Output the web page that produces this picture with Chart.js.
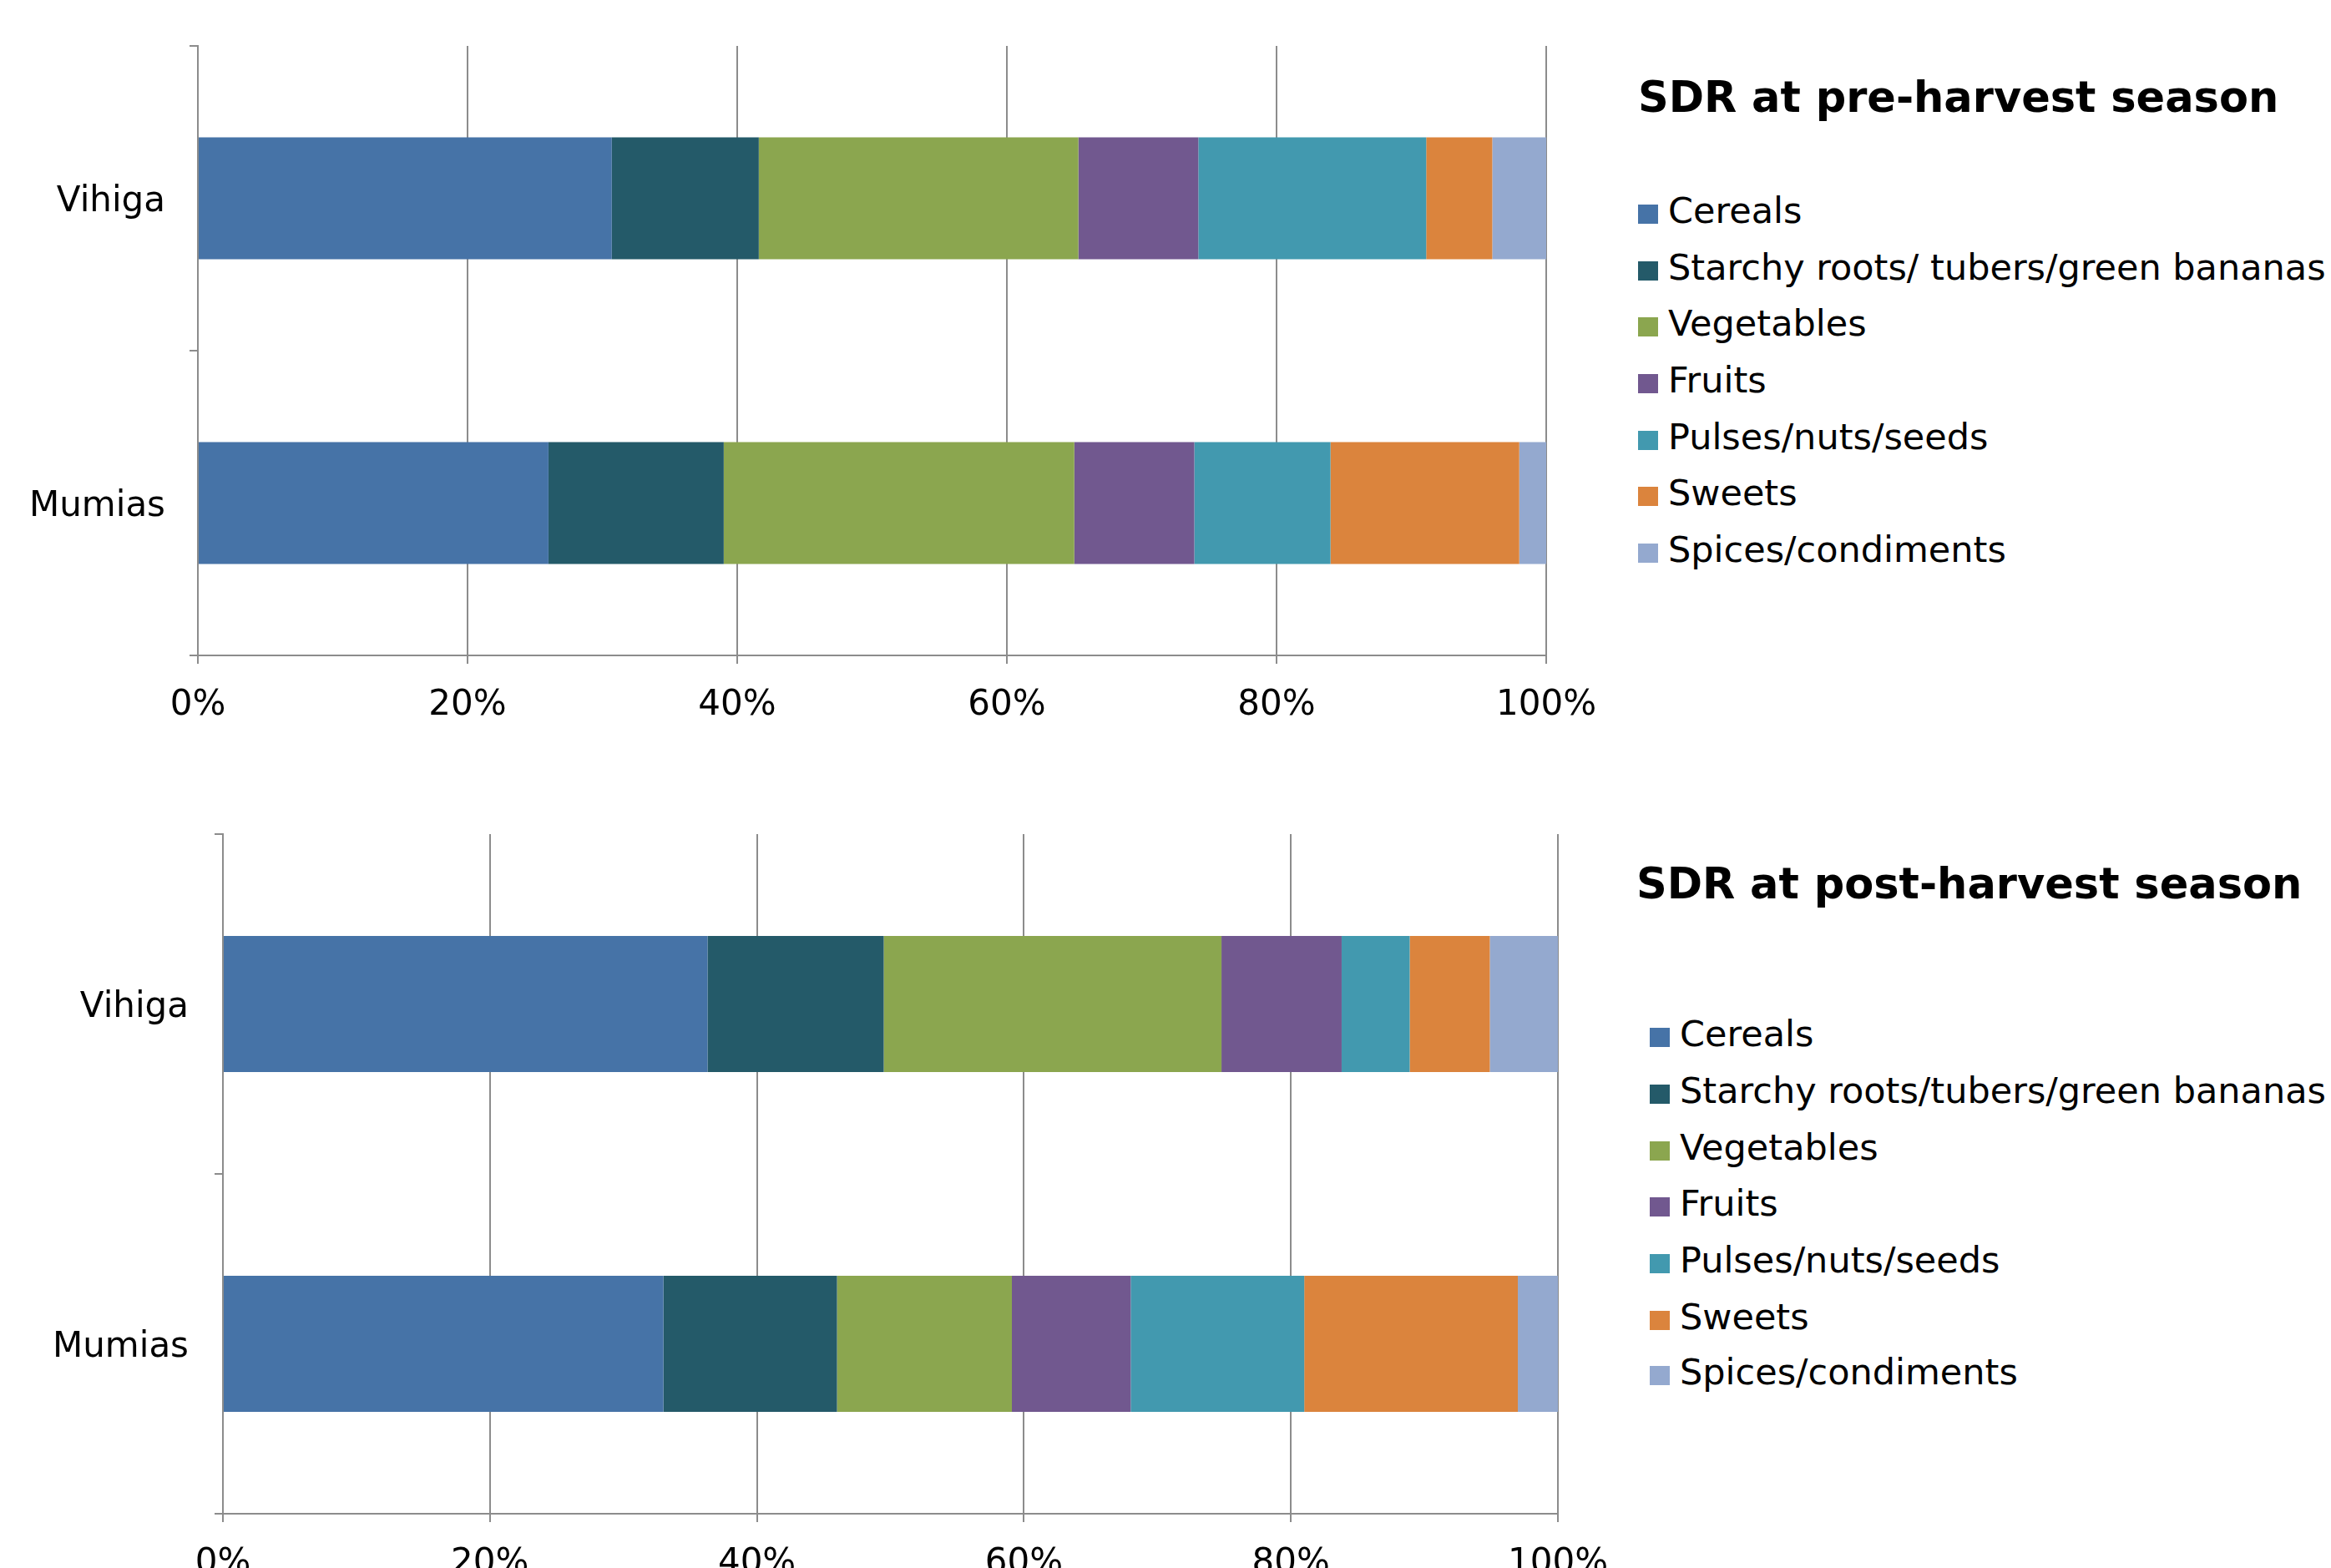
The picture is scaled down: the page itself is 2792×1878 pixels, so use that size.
<!DOCTYPE html>
<html>
<head>
<meta charset="utf-8">
<script src="https://cdn.jsdelivr.net/npm/chart.js@4/dist/chart.umd.min.js"></script>
<style>
  html, body { margin: 0; padding: 0; background: #fff; }
  body { width: 2792px; height: 1878px; overflow: hidden; position: relative; font-family: 'DejaVu Sans', Verdana, sans-serif; color: #000; }
  canvas { position: absolute; left: 0; }
  .legend-title { position: absolute; font-weight: bold; font-size: 51px; line-height: 60px; white-space: nowrap; }
  .legend-item { position: absolute; font-size: 43px; line-height: 50px; white-space: nowrap; }
  .legend-item span { display: inline-block; width: 24px; height: 23px; margin-right: 12px; vertical-align: -1px; }
</style>
</head>
<body>
<canvas id="pre-chart" width="1960" height="900" style="top:0;width:1960px;height:900px;"></canvas>
<canvas id="post-chart" width="1960" height="1000" style="top:940px;width:1960px;height:1000px;"></canvas>
<div id="legends"></div>
<script>
// ----- Data (percent of respondents) -----
const regions = ["Vihiga", "Mumias"];
const foodGroupsPre = ["Cereals", "Starchy roots/ tubers/green bananas", "Vegetables", "Fruits", "Pulses/nuts/seeds", "Sweets", "Spices/condiments"];
const foodGroupsPost = ["Cereals", "Starchy roots/tubers/green bananas", "Vegetables", "Fruits", "Pulses/nuts/seeds", "Sweets", "Spices/condiments"];
const preVihiga = [30.7, 10.9, 23.7, 8.9, 16.9, 4.9, 4.0];
const preMumias = [26.0, 13.0, 26.0, 8.9, 10.1, 14.0, 2.0];
const postVihiga = [36.3, 13.2, 25.3, 9.0, 5.1, 6.0, 5.1];
const postMumias = [33.0, 13.0, 13.1, 8.9, 13.0, 16.0, 3.0];
const xTicks = [0, 20, 40, 60, 80, 100];

const colors = ["#4673a7", "#245a69", "#8ba64f", "#71588f", "#4299af", "#db843d", "#94a9cf"];
const gridColor = "#8c8c8c";

Chart.defaults.font.family = "'DejaVu Sans', Verdana, sans-serif";
Chart.defaults.font.size = 42;
Chart.defaults.color = "#000";

// ----- Chart builder -----
const makeChart = (id, groups, vihiga, mumias, layout) => {
  const datasets = groups.map((g, i) => ({
    label: g,
    data: [vihiga[i], mumias[i]],
    backgroundColor: colors[i],
    borderWidth: 0,
    barPercentage: 0.4,
    categoryPercentage: 1.0,
  }));

  return new Chart(document.getElementById(id), {
    type: "bar",
    data: { labels: regions, datasets },
    options: {
      indexAxis: "y",
      responsive: false,
      devicePixelRatio: 1,
      animation: false,
      layout: { padding: layout.padding },
      plugins: {
        legend: { display: false },
        title: { display: false },
        tooltip: { enabled: false },
      },
      scales: {
        x: {
          stacked: true,
          min: 0,
          max: 100,
          afterBuildTicks: (scale) => { scale.ticks = xTicks.map(v => ({ value: v })); },
          ticks: { callback: (v) => v + "%", padding: 25, maxRotation: 0 },
          grid: { color: gridColor, lineWidth: 2, tickLength: 10, drawTicks: true },
          border: { display: true, color: gridColor, width: 2 },
          afterFit: (scale) => { scale.height = 80; },
        },
        y: {
          stacked: true,
          ticks: { padding: layout.yPad, labelOffset: 5 },
          grid: { offset: true, drawOnChartArea: false, color: gridColor, lineWidth: 2, tickLength: 10 },
          border: { display: true, color: gridColor, width: 2 },
          afterFit: (scale) => { scale.width = layout.yWidth; },
        },
      },
    },
  });
};

makeChart("pre-chart", foodGroupsPre, preVihiga, preMumias, {
  padding: { top: 55, right: 108, bottom: 35, left: 0 },
  yWidth: 237,
  yPad: 29,
});
makeChart("post-chart", foodGroupsPost, postVihiga, postMumias, {
  padding: { top: 59, right: 94, bottom: 47, left: 0 },
  yWidth: 267,
  yPad: 31,
});

// ----- HTML legends (right of each chart) -----
const addLegend = (title, groups, titleX, titleY, itemX, itemYs) => {
  const root = document.getElementById("legends");
  const t = document.createElement("div");
  t.className = "legend-title";
  t.style.left = titleX + "px";
  t.style.top = (titleY - 30) + "px";
  t.textContent = title;
  root.appendChild(t);
  groups.forEach((g, i) => {
    const d = document.createElement("div");
    d.className = "legend-item";
    d.style.left = itemX + "px";
    d.style.top = (itemYs[i] - 25) + "px";
    d.innerHTML = `<span style="background:${colors[i]}"></span>${g}`;
    root.appendChild(d);
  });
};

addLegend("SDR at pre-harvest season", foodGroupsPre, 1962, 117, 1962, [252, 320, 387, 455, 523, 590, 658]);
addLegend("SDR at post-harvest season", foodGroupsPost, 1960, 1059, 1976, [1238, 1306, 1374, 1441, 1509, 1577, 1643]);
</script>
</body>
</html>
